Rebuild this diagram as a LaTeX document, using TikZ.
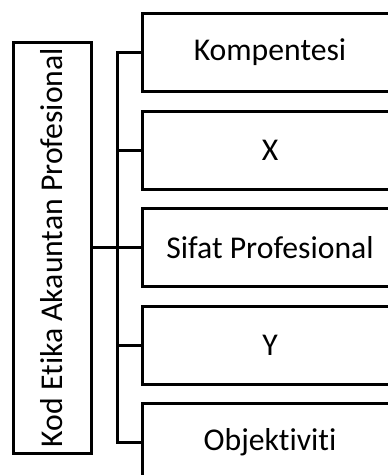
\documentclass[tikz,border=0pt]{standalone}
\usepackage{fontspec}
\setmainfont{Carlito}[Ligatures={NoCommon}]
\usepackage{graphicx}
\begin{document}
\begin{tikzpicture}[x=1pt,y=-1pt,
  every node/.style={font=\fontsize{31.7}{38}\selectfont},
  boxstyle/.style={draw=black,line width=3pt,rectangle,inner sep=0pt,minimum width=256pt,minimum height=78pt},
  rootbox/.style={draw=black,line width=3pt,rectangle,inner sep=0pt,minimum width=78pt,minimum height=411pt},
  conn/.style={draw=black,line width=3pt}]
\useasboundingbox (0,0) rectangle (388,475);
\clip (0,0) rectangle (388,475);
\node[rootbox] (root) at (52,247.5) {\rotatebox{90}{Kod Etika Akauntan Profesional}};
\node[boxstyle] (b1) at (270,52) {Kompentesi};
\node[boxstyle] (b2) at (270,150) {X};
\node[boxstyle] (b3) at (270,247.5) {Sifat Profesional};
\node[boxstyle] (b4) at (270,345) {Y};
\node[boxstyle] (b5) at (270,442) {Objektiviti};
\coordinate (bus) at (117,247.5);
\draw[conn] (root.east) -- (bus);
\foreach \i in {1,...,5} {\draw[conn] (bus) |- (b\i.west);}
\end{tikzpicture}
\end{document}
